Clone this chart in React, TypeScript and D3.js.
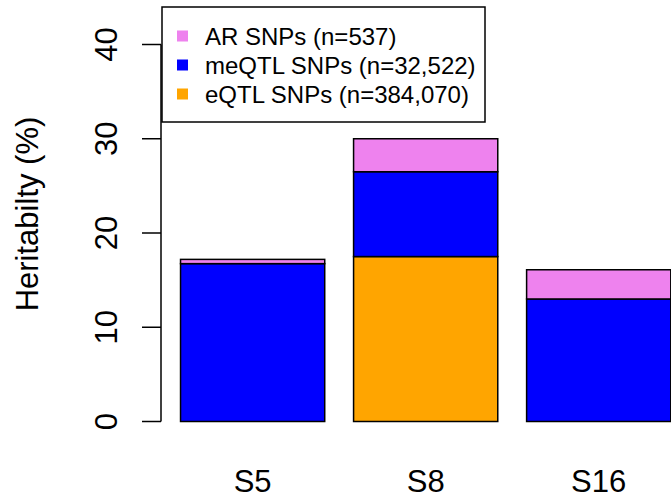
import React, { useEffect, useRef } from 'react';
import * as d3 from 'd3';

const categories = ['S5', 'S8', 'S16'];
const eqtlValues = [0, 17.5, 0];
const meqtlValues = [16.75, 9.0, 13.0];
const arValues = [0.45, 3.5, 3.1];
const yTicks = [0, 10, 20, 30, 40];

const seriesNames = ['eQTL', 'meQTL', 'AR'];
const seriesColors = ['orange', '#0000ff', 'violet'];
const legendLabels = ['AR SNPs (n=537)', 'meQTL SNPs (n=32,522)', 'eQTL SNPs (n=384,070)'];
const legendColors = ['violet', '#0000ff', 'orange'];

const width = 671;
const height = 498;
const font = '"Liberation Sans", Arial, Helvetica, sans-serif';

const App = () => {
  const svgRef = useRef<SVGSVGElement>(null);

  useEffect(() => {
    const svg = d3.select(svgRef.current);
    svg.selectAll('*').remove();

    const rows = categories.map((c, i) => ({
      cat: c,
      eQTL: eqtlValues[i],
      meQTL: meqtlValues[i],
      AR: arValues[i],
    }));
    const stacked = d3.stack<any>().keys(seriesNames)(rows);

    // R barplot style: bars at 0.2 + 1.2*i, width 1
    const x = d3.scaleLinear().domain([0, 3.6]).range([151.7, 670.8]);
    const y = d3.scaleLinear().domain([0, 40]).range([421.5, 44.5]);

    // bars
    stacked.forEach((layer, si) => {
      svg.append('g')
        .selectAll('rect')
        .data(layer)
        .enter()
        .append('rect')
        .attr('x', (d, i) => x(0.2 + 1.2 * i))
        .attr('width', x(1) - x(0))
        .attr('y', d => y(d[1]))
        .attr('height', d => Math.max(0, y(d[0]) - y(d[1])))
        .attr('fill', seriesColors[si])
        .attr('stroke', d => (d[1] - d[0] > 0 ? 'black' : 'none'))
        .attr('stroke-width', 1.5);
    });

    // category labels
    svg.append('g')
      .selectAll('text')
      .data(categories)
      .enter()
      .append('text')
      .attr('x', (d, i) => x(0.7 + 1.2 * i))
      .attr('y', 492)
      .attr('text-anchor', 'middle')
      .attr('font-family', font)
      .attr('font-size', 31)
      .text(d => d);

    // y axis
    const axisX = 161;
    svg.append('line')
      .attr('x1', axisX).attr('x2', axisX)
      .attr('y1', y(0)).attr('y2', y(40))
      .attr('stroke', 'black').attr('stroke-width', 1.5);

    const ticks = svg.append('g').selectAll('g').data(yTicks).enter().append('g');
    ticks.append('line')
      .attr('x1', 142).attr('x2', axisX)
      .attr('y1', d => y(d)).attr('y2', d => y(d))
      .attr('stroke', 'black').attr('stroke-width', 1.5);
    ticks.append('text')
      .attr('transform', d => `translate(117, ${y(d)}) rotate(-90)`)
      .attr('text-anchor', 'middle')
      .attr('font-family', font)
      .attr('font-size', 31)
      .text(d => d);

    // y title
    svg.append('text')
      .attr('transform', 'translate(38, 214) rotate(-90)')
      .attr('text-anchor', 'middle')
      .attr('font-family', font)
      .attr('font-size', 31)
      .text('Heritabilty (%)');

    // legend
    const legend = svg.append('g');
    legend.append('rect')
      .attr('x', 162).attr('y', 7)
      .attr('width', 323).attr('height', 115)
      .attr('fill', 'white')
      .attr('stroke', 'black').attr('stroke-width', 1.5);

    const items = legend.selectAll('g.item')
      .data(legendLabels)
      .enter()
      .append('g')
      .attr('class', 'item')
      .attr('transform', (d, i) => `translate(0, ${36 + i * 29})`);
    items.append('rect')
      .attr('x', 177).attr('y', -5.5)
      .attr('width', 11).attr('height', 11)
      .attr('fill', (d, i) => legendColors[i]);
    items.append('text')
      .attr('x', 205)
      .attr('y', 9)
      .attr('font-family', font)
      .attr('font-size', 24)
      .text(d => d);
  }, []);

  return (
    <svg
      ref={svgRef}
      width={width}
      height={height}
      style={{ position: 'absolute', left: 0, top: 0, background: 'white' }}
    ></svg>
  );
};

export default App;
